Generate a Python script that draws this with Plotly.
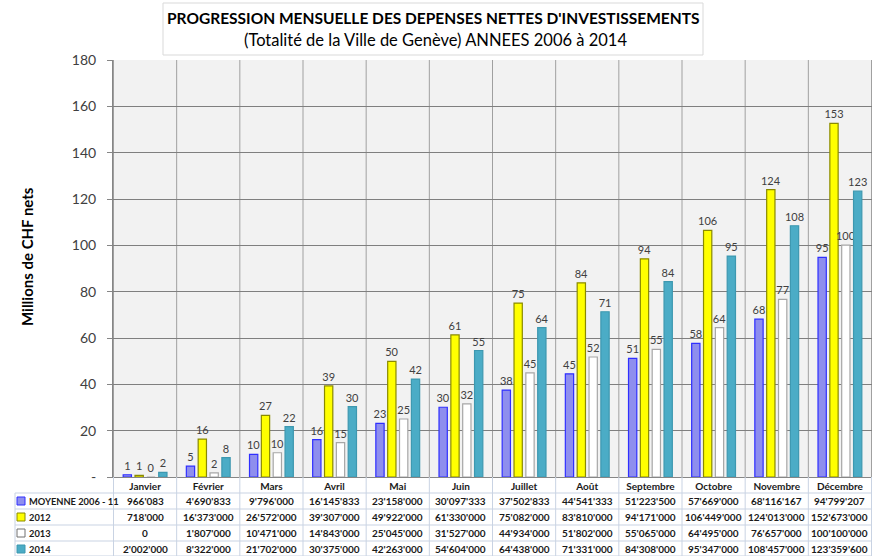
import plotly.graph_objects as go

# ---------------- data ----------------
months = ["Janvier", "Février", "Mars", "Avril", "Mai", "Juin", "Juillet", "Août",
          "Septembre", "Octobre", "Novembre", "Décembre"]
series_names = ["MOYENNE 2006 - 11", "2012", "2013", "2014"]
moyenne_2006_11 = [966083, 4690833, 9796000, 16145833, 23158000, 30097333, 37502833,
                   44541333, 51223500, 57669000, 68116167, 94799207]
values_2012 = [718000, 16373000, 26572000, 39307000, 49922000, 61330000, 75082000,
               83810000, 94171000, 106449000, 124013000, 152673000]
values_2013 = [0, 1807000, 10471000, 14843000, 25045000, 31527000, 44934000,
               51802000, 55065000, 64495000, 76657000, 100100000]
values_2014 = [2002000, 8322000, 21702000, 30375000, 42263000, 54604000, 64438000,
               71331000, 84308000, 95347000, 108457000, 123359600]
y_tick_vals = [0, 20, 40, 60, 80, 100, 120, 140, 160, 180]
y_tick_text = ["-", "20", "40", "60", "80", "100", "120", "140", "160", "180"]

title_line1 = "PROGRESSION MENSUELLE DES DEPENSES NETTES D'INVESTISSEMENTS"
title_line2 = "(Totalité de la Ville de Genève) ANNEES 2006 à 2014"
y_title = "Millions de CHF nets"

# ---------------- styling ----------------
FONT = "Lato"
W, H = 872, 556
ML, MR, MT, MB = 113, 0, 60, 79
PW, PH = W - ML - MR, H - MT - MB

fills = ["#8e8eee", "#ffff00", "#ffffff", "#4bacc6"]
edges = ["#2f2fff", "#8a8a00", "#a6a6a6", "#3d98b0"]
all_series = [moyenne_2006_11, values_2012, values_2013, values_2014]


def px_x(px):
    return (px - ML) / PW


def px_y(py):
    return (H - MB - py) / PH


def fmt(v):
    return f"{v:,}".replace(",", "'")


fig = go.Figure()
for name, vals, fc, ec in zip(series_names, all_series, fills, edges):
    fig.add_trace(go.Bar(
        name=name, x=months, y=[v / 1e6 for v in vals],
        marker=dict(color=fc, line=dict(color=ec, width=1.2)),
        texttemplate="%{y:.0f}", textposition="outside",
        textfont=dict(family=FONT, size=11, color="#404040"),
        constraintext="none", cliponaxis=False,
    ))

shapes = []
annotations = []

# title box
shapes.append(dict(type="rect", xref="paper", yref="paper",
                   x0=px_x(163), x1=px_x(703), y0=px_y(55), y1=px_y(3),
                   line=dict(color="#d9d9d9", width=1), fillcolor="white", layer="above"))
annotations.append(dict(xref="paper", yref="paper", x=px_x(433), y=px_y(18),
                        text="<b>" + title_line1 + "</b>", showarrow=False,
                        font=dict(family=FONT, size=15.5, color="#000000"),
                        xanchor="center", yanchor="middle"))
annotations.append(dict(xref="paper", yref="paper", x=px_x(435), y=px_y(40),
                        text=title_line2, showarrow=False,
                        font=dict(family=FONT, size=16.5, color="#000000"),
                        xanchor="center", yanchor="middle"))
# y title
annotations.append(dict(xref="paper", yref="paper", x=px_x(27), y=px_y(257),
                        text="<b>" + y_title + "</b>", showarrow=False, textangle=-90,
                        font=dict(family=FONT, size=15, color="#000000"),
                        xanchor="center", yanchor="middle"))

# vertical category separators in plot
n = len(months)
for i in range(n + 1):
    shapes.append(dict(type="line", xref="x", yref="paper", x0=i - 0.5, x1=i - 0.5,
                       y0=0, y1=1, line=dict(color="#a0a0a0", width=1), layer="below"))

# table
tcol = "#c9d3e3"
row_tops = [493, 509, 525, 541]
row_h = 16
for r, top in enumerate(row_tops):
    shapes.append(dict(type="line", xref="paper", yref="paper", x0=px_x(15), x1=1,
                       y0=px_y(top), y1=px_y(top), line=dict(color=tcol, width=1)))
shapes.append(dict(type="line", xref="paper", yref="paper", x0=px_x(15), x1=1,
                   y0=px_y(556), y1=px_y(556), line=dict(color=tcol, width=1)))
shapes.append(dict(type="line", xref="paper", yref="paper", x0=px_x(15), x1=px_x(15),
                   y0=px_y(493), y1=px_y(556), line=dict(color=tcol, width=1)))
for i in range(n + 1):
    shapes.append(dict(type="line", xref="x", yref="paper", x0=i - 0.5, x1=i - 0.5,
                       y0=px_y(477), y1=px_y(556), line=dict(color=tcol, width=1)))

for r, (name, vals, fc, ec) in enumerate(zip(series_names, all_series, fills, edges)):
    cy = row_tops[r] + row_h / 2
    shapes.append(dict(type="rect", xref="paper", yref="paper",
                       x0=px_x(17), x1=px_x(25), y0=px_y(cy + 4), y1=px_y(cy - 4),
                       fillcolor=fc, line=dict(color=ec if r != 2 else "#707070", width=1)))
    annotations.append(dict(xref="paper", yref="paper", x=px_x(26.5), y=px_y(cy),
                            text="<b>" + name + "</b>", showarrow=False,
                            xanchor="left", yanchor="middle",
                            font=dict(family=FONT, size=9.3, color="#1a1a1a")))
    for m, v in zip(months, vals):
        annotations.append(dict(xref="x", yref="paper", x=m, y=px_y(cy),
                                text="<b>" + fmt(v) + "</b>", showarrow=False,
                                xanchor="center", yanchor="middle",
                                font=dict(family=FONT, size=10, color="#1a1a1a")))

fig.update_layout(
    width=W, height=H,
    margin=dict(l=ML, r=MR, t=MT, b=MB, pad=0),
    paper_bgcolor="white", plot_bgcolor="#f2f2f2",
    showlegend=False, barmode="group", bargap=0.25, bargroupgap=0.3,
    font=dict(family=FONT, color="#404040"),
    shapes=shapes, annotations=annotations,
)
fig.update_yaxes(range=[0, 180], tickvals=y_tick_vals, ticktext=y_tick_text,
                 showgrid=True, gridcolor="#7f7f7f", gridwidth=1,
                 showline=True, linecolor="#868686", linewidth=1,
                 ticks="outside", ticklen=5, tickcolor="#868686",
                 tickfont=dict(family=FONT, size=14, color="#404040"),
                 ticklabelstandoff=8, zeroline=False)
fig.update_xaxes(showgrid=False, showline=True, linecolor="#868686", linewidth=1,
                 ticks="", tickfont=dict(family=FONT, size=10, color="#1a1a1a"),
                 tickprefix="<b>", ticksuffix="</b>", ticklabelstandoff=0)

fig.write_html("out.html", config={"displayModeBar": False},
               post_script="document.body.style.margin='0';"
                           "document.body.style.overflow='hidden';")
